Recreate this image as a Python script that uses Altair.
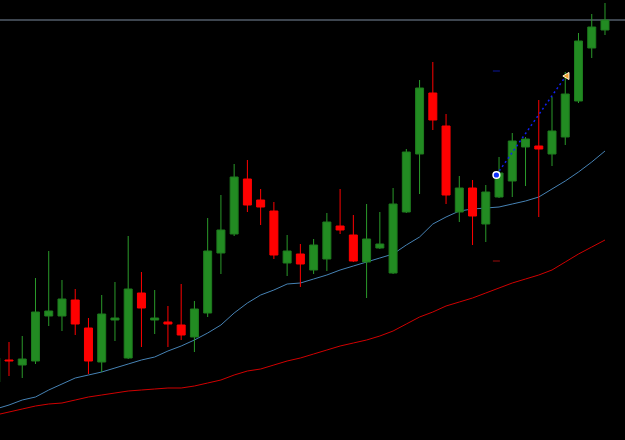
import altair as alt
import pandas as pd

# candle index (0 is the partially visible bar at the left edge)
idx = list(range(47))
opens = [1.1058, 1.1080, 1.1075, 1.1079, 1.1124, 1.1124, 1.1140, 1.1112, 1.1078, 1.1120,
         1.1082, 1.1147, 1.1120, 1.1118, 1.1115, 1.1103, 1.1127, 1.1187, 1.1206, 1.1261,
         1.1240, 1.1229, 1.1177, 1.1186, 1.1170, 1.1181, 1.1214, 1.1205, 1.1178, 1.1192,
         1.1167, 1.1228, 1.1286, 1.1347, 1.1314, 1.1228, 1.1252, 1.1216, 1.1243, 1.1259,
         1.1293, 1.1294, 1.1286, 1.1303, 1.1339, 1.1392, 1.1410]
highs = [1.1090, 1.1098, 1.1104, 1.1162, 1.1189, 1.1160, 1.1151, 1.1122, 1.1145, 1.1158,
         1.1204, 1.1168, 1.1150, 1.1134, 1.1156, 1.1139, 1.1222, 1.1245, 1.1276, 1.1280,
         1.1251, 1.1238, 1.1205, 1.1196, 1.1201, 1.1227, 1.1251, 1.1225, 1.1236, 1.1228,
         1.1252, 1.1291, 1.1360, 1.1378, 1.1326, 1.1264, 1.1260, 1.1255, 1.1283, 1.1307,
         1.1303, 1.1340, 1.1343, 1.1368, 1.1407, 1.1426, 1.1437]
lows = [1.1052, 1.1064, 1.1062, 1.1076, 1.1114, 1.1109, 1.1105, 1.1066, 1.1068, 1.1099,
        1.1081, 1.1093, 1.1106, 1.1093, 1.1100, 1.1088, 1.1123, 1.1166, 1.1204, 1.1228,
        1.1215, 1.1181, 1.1164, 1.1153, 1.1166, 1.1169, 1.1206, 1.1178, 1.1142, 1.1191,
        1.1166, 1.1227, 1.1246, 1.1310, 1.1236, 1.1218, 1.1195, 1.1198, 1.1242, 1.1243,
        1.1254, 1.1223, 1.1274, 1.1295, 1.1337, 1.1382, 1.1405]
closes = [1.1082, 1.1079, 1.1081, 1.1128, 1.1129, 1.1141, 1.1116, 1.1079, 1.1126, 1.1122,
          1.1151, 1.1132, 1.1122, 1.1116, 1.1105, 1.1131, 1.1189, 1.1210, 1.1263, 1.1235,
          1.1233, 1.1185, 1.1189, 1.1176, 1.1195, 1.1218, 1.1210, 1.1179, 1.1201, 1.1196,
          1.1236, 1.1288, 1.1352, 1.1320, 1.1245, 1.1252, 1.1224, 1.1248, 1.1267, 1.1299,
          1.1301, 1.1291, 1.1309, 1.1346, 1.1399, 1.1413, 1.1420]
ma_fast = [1.1031, 1.1035, 1.1040, 1.1043, 1.1050, 1.1056, 1.1062, 1.1065, 1.1068, 1.1072,
           1.1076, 1.1080, 1.1083, 1.1089, 1.1094, 1.1100, 1.1107, 1.1115, 1.1127, 1.1137,
           1.1145, 1.1150, 1.1156, 1.1157, 1.1161, 1.1165, 1.1170, 1.1174, 1.1178, 1.1182,
           1.1186, 1.1195, 1.1203, 1.1216, 1.1223, 1.1229, 1.1231, 1.1232, 1.1233, 1.1236,
           1.1239, 1.1243, 1.1251, 1.1259, 1.1268, 1.1278, 1.1289]
ma_slow = [1.1025, 1.1028, 1.1031, 1.1034, 1.1036, 1.1037, 1.1040, 1.1043, 1.1045, 1.1047,
           1.1049, 1.1050, 1.1051, 1.1052, 1.1052, 1.1054, 1.1057, 1.1060, 1.1065, 1.1069,
           1.1071, 1.1075, 1.1079, 1.1082, 1.1086, 1.1090, 1.1094, 1.1097, 1.1100, 1.1104,
           1.1109, 1.1116, 1.1123, 1.1128, 1.1134, 1.1138, 1.1142, 1.1147, 1.1152, 1.1157,
           1.1161, 1.1165, 1.1170, 1.1178, 1.1186, 1.1193, 1.1200]

bid_price = [1.1420]
signal_idx = [37.8, 43.05]
signal_price = [1.1265, 1.1364]
level_idx = [37.8, 37.8]
level_price = [1.1369, 1.1179]
level_kind = ["high", "low"]

df = pd.DataFrame({"i": idx, "open": opens, "high": highs, "low": lows,
                   "close": closes, "fast": ma_fast, "slow": ma_slow})
sig = pd.DataFrame({"i": signal_idx, "p": signal_price, "kind": ["start", "end"]})
lev = pd.DataFrame({"i": level_idx, "p": level_price, "kind": level_kind})
bid = pd.DataFrame({"p": bid_price})

xs = alt.Scale(domain=[0.3204, 47.511], nice=False, zero=False, padding=0)
ys = alt.Scale(domain=[1.1000, 1.1440], nice=False, zero=False, padding=0)
X = alt.X("i:Q", scale=xs, axis=None)

base = alt.Chart(df)
up = alt.datum.close >= alt.datum.open

slow = base.mark_line(color="#D00000", strokeWidth=1, clip=True).encode(
    x=X, y=alt.Y("slow:Q", scale=ys, axis=None))
fast = base.mark_line(color="#4682B4", strokeWidth=1, clip=True).encode(
    x=X, y=alt.Y("fast:Q", scale=ys, axis=None))
bidline = alt.Chart(bid).mark_rule(color="#7A8A9E", strokeWidth=1).encode(
    y=alt.Y("p:Q", scale=ys, axis=None))
wicks = base.mark_rule(strokeWidth=1, clip=True).encode(
    x=X, y=alt.Y("low:Q", scale=ys, axis=None), y2="high:Q",
    color=alt.condition(up, alt.value("#2A9A2A"), alt.value("#FF0000")))
bodies = base.mark_bar(size=8, strokeWidth=1, clip=True).encode(
    x=X, y=alt.Y("open:Q", scale=ys, axis=None), y2="close:Q",
    fill=alt.condition(up, alt.value("#228B22"), alt.value("#FF0000")),
    stroke=alt.condition(up, alt.value("#1E7A1E"), alt.value("#FF0000")))

sigline = alt.Chart(sig).mark_line(color="#1020F0", strokeWidth=1.5,
                                   strokeDash=[2, 3]).encode(
    x=alt.X("i:Q", scale=xs, axis=None), y=alt.Y("p:Q", scale=ys, axis=None))
start_pt = alt.Chart(sig).transform_filter(alt.datum.kind == "start").mark_point(
    shape="circle", filled=True, fill="#1030FF", stroke="white", strokeWidth=1.5,
    size=45, opacity=1).encode(
    x=alt.X("i:Q", scale=xs, axis=None), y=alt.Y("p:Q", scale=ys, axis=None))
end_pt = alt.Chart(sig).transform_filter(alt.datum.kind == "end").mark_point(
    shape="triangle-left", filled=True, fill="#F0A030", stroke="#FFF2D0",
    strokeWidth=1, size=50, opacity=1).encode(
    x=alt.X("i:Q", scale=xs, axis=None), y=alt.Y("p:Q", scale=ys, axis=None))
levels = alt.Chart(lev).mark_tick(orient="horizontal", size=7, thickness=1).encode(
    x=alt.X("i:Q", scale=xs, axis=None), y=alt.Y("p:Q", scale=ys, axis=None),
    color=alt.Color("kind:N", scale=alt.Scale(domain=["high", "low"],
                                              range=["#1020E0", "#E01010"]),
                    legend=None))

chart = alt.layer(slow, fast, bidline, wicks, bodies, sigline, levels, start_pt, end_pt).properties(
    width=625, height=440, background="black", padding=0,
    autosize=alt.AutoSizeParams(type="none")
).configure_view(strokeWidth=0)

chart.save("out.html", embed_options={"renderer": "svg", "actions": False})
